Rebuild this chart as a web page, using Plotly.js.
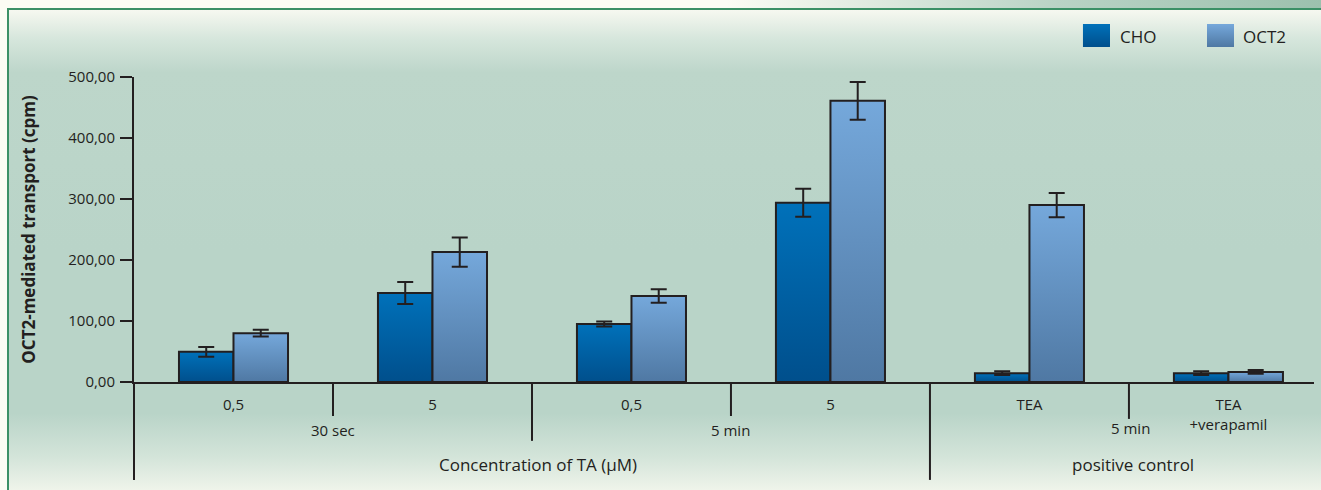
<!DOCTYPE html>
<html>
<head>
<meta charset="utf-8">
<script src="https://cdn.plot.ly/plotly-3.0.1.min.js"></script>
<style>
  html, body { margin: 0; padding: 0; background: #fbfcf4; }
  #wrap { position: relative; width: 1321px; height: 490px; overflow: hidden;
          background: linear-gradient(to right, #fbfcf4 0%, #fbfcf4 55%, #b9d3c5 80%, #9cc1ae 100%); }
  #panel { position: absolute; left: 7px; top: 8px; width: 1314px; height: 482px;
           border-left: 2px solid #3b9066; border-top: 2px solid #3b9066; box-sizing: border-box;
           background: linear-gradient(to bottom, #f6f8f0 0%, #d6e6dc 6%, #bdd6ca 13%, #b9d4c8 50%, #b9d4c8 84%, #d3e4d9 93%, #eff4ea 100%); }
  #chart { position: absolute; left: 0; top: 0; width: 1321px; height: 490px; }
</style>
</head>
<body>
<div id="wrap">
  <div id="panel"></div>
  <div id="chart"></div>
</div>
<script>
// ---- data ----
const categoryIds = ['30s-0.5', '30s-5', '5m-0.5', '5m-5', 'pc-TEA', 'pc-TEA-verapamil'];
const categoryLabels = ['0,5', '5', '0,5', '5', 'TEA', 'TEA<br>+verapamil'];
const choValues = [49.5, 146, 95, 294, 14.5, 14.5];
const choErrors = [8, 18, 4, 23, 3, 3];
const oct2Values = [80, 213, 141, 461, 290, 16.5];
const oct2Errors = [5.5, 24, 11, 31, 20, 3];
const yTickValues = [0, 100, 200, 300, 400, 500];
const seriesNames = ['CHO', 'OCT2'];
const timeLabels = ['30 sec', '5 min', '5 min'];
const groupLabels = ['Concentration of TA (µM)', 'positive control'];

const ink = '#231f20';
const font = 'Open Sans, Noto Sans, sans-serif';

const traces = [
  {
    type: 'bar', name: seriesNames[0], x: categoryIds, y: choValues,
    marker: { color: '#0060a3', line: { color: ink, width: 2 } },
    error_y: { type: 'data', array: choErrors, visible: true, color: ink, thickness: 2, width: 8 },
    hoverinfo: 'y', showlegend: false
  },
  {
    type: 'bar', name: seriesNames[1], x: categoryIds, y: oct2Values,
    marker: { color: '#6290c0', line: { color: ink, width: 2 } },
    error_y: { type: 'data', array: oct2Errors, visible: true, color: ink, thickness: 2, width: 8 },
    hoverinfo: 'y', showlegend: false
  }
];

const lineStyle = { color: ink, width: 2 };
const shapes = [
  // legend boxes (index 0,1)
  { type: 'rect', xref: 'paper', yref: 'paper', x0: 0.8042, x1: 0.8271, y0: 1.0984, y1: 1.1738, fillcolor: '#0060a4', line: { width: 0 } },
  { type: 'rect', xref: 'paper', yref: 'paper', x0: 0.9093, x1: 0.9322, y0: 1.0984, y1: 1.1738, fillcolor: '#6390c0', line: { width: 0 } },
  // y axis extension
  { type: 'line', xref: 'paper', yref: 'paper', x0: 0, x1: 0, y0: 0, y1: -0.321, line: lineStyle },
  // separators
  { type: 'line', xref: 'x', yref: 'paper', x0: 0.5, x1: 0.5, y0: 0, y1: -0.1115, line: lineStyle },
  { type: 'line', xref: 'x', yref: 'paper', x0: 1.5, x1: 1.5, y0: 0, y1: -0.193, line: lineStyle },
  { type: 'line', xref: 'x', yref: 'paper', x0: 2.5, x1: 2.5, y0: 0, y1: -0.1115, line: lineStyle },
  { type: 'line', xref: 'x', yref: 'paper', x0: 3.5, x1: 3.5, y0: 0, y1: -0.321, line: lineStyle },
  { type: 'line', xref: 'x', yref: 'paper', x0: 4.5, x1: 4.5, y0: 0, y1: -0.121, line: lineStyle }
];

const ann = (text, x, y, opts) => Object.assign({
  text, x, y, xref: 'x', yref: 'paper', showarrow: false,
  xanchor: 'center', yanchor: 'middle', font: { family: font, size: 15, color: ink }
}, opts || {});

const annotations = [
  ann(timeLabels[0], 0.5, -0.157),
  ann(timeLabels[1], 2.5, -0.157),
  ann(timeLabels[2], 4.5, -0.151, { xshift: 2 }),
  ann(groupLabels[0], 1.5, -0.272, { xshift: 6, font: { family: font, size: 17, color: ink } }),
  ann(groupLabels[1], 4.5, -0.272, { xshift: 4, font: { family: font, size: 17, color: ink } }),
  ann(seriesNames[0], 0.834, 1.134, { xref: 'paper', xanchor: 'left', font: { family: font, size: 17, color: ink } }),
  ann(seriesNames[1], 0.938, 1.134, { xref: 'paper', xanchor: 'left', font: { family: font, size: 17, color: ink } })
];

const layout = {
  width: 1321, height: 490,
  margin: { l: 134, r: 7, t: 77, b: 108, pad: 0 },
  paper_bgcolor: 'rgba(0,0,0,0)', plot_bgcolor: 'rgba(0,0,0,0)',
  separators: ',.',
  barmode: 'group', bargap: 0.452, bargroupgap: 0,
  font: { family: font, color: ink },
  xaxis: {
    type: 'category', categoryorder: 'array', categoryarray: categoryIds,
    tickvals: categoryIds, ticktext: categoryLabels,
    range: [-0.5, 5.43], showline: true, linecolor: ink, linewidth: 2,
    ticks: '', showgrid: false, zeroline: false, fixedrange: true,
    tickfont: { family: font, size: 15, color: ink }, ticklabelstandoff: 8
  },
  yaxis: {
    range: [0, 500], tickvals: yTickValues, tickformat: '.2f',
    ticks: 'outside', ticklen: 12, tickwidth: 2, tickcolor: ink,
    showline: true, linecolor: ink, linewidth: 2,
    showgrid: false, zeroline: false, fixedrange: true,
    tickfont: { family: font, size: 15, color: ink }, ticklabelstandoff: 2,
    title: { text: 'OCT2-mediated transport (cpm)', standoff: 28,
             font: { family: font, size: 17, color: ink, weight: 'bold' } }
  },
  shapes, annotations, showlegend: false
};

const gd = document.getElementById('chart');

function ensureGradient(svg, id, top, bottom) {
  if (svg.querySelector('#' + id)) return;
  let defs = svg.querySelector('defs');
  if (!defs) { defs = document.createElementNS('http://www.w3.org/2000/svg', 'defs'); svg.insertBefore(defs, svg.firstChild); }
  const g = document.createElementNS('http://www.w3.org/2000/svg', 'linearGradient');
  g.setAttribute('id', id); g.setAttribute('x1', '0'); g.setAttribute('y1', '0');
  g.setAttribute('x2', '0'); g.setAttribute('y2', '1');
  [[0, top], [1, bottom]].forEach(([o, c]) => {
    const s = document.createElementNS('http://www.w3.org/2000/svg', 'stop');
    s.setAttribute('offset', o); s.setAttribute('stop-color', c); g.appendChild(s);
  });
  defs.appendChild(g);
}

function applyGradients() {
  const svg = gd.querySelector('svg.main-svg');
  if (!svg) return;
  ensureGradient(svg, 'gradCHO', '#0071ba', '#004f8c');
  ensureGradient(svg, 'gradOCT2', '#75a8db', '#4f78a3');
  const ids = ['gradCHO', 'gradOCT2'];
  gd.querySelectorAll('.barlayer .trace').forEach((tr, i) => {
    tr.querySelectorAll('.point path').forEach(p => { p.style.fill = 'url(#' + ids[i] + ')'; });
  });
  gd.querySelectorAll('.shapelayer path').forEach(p => {
    const idx = p.getAttribute('data-index');
    if (idx === '0') p.style.fill = 'url(#gradCHO)';
    if (idx === '1') p.style.fill = 'url(#gradOCT2)';
  });
}

Plotly.newPlot(gd, traces, layout, { displayModeBar: false, staticPlot: true }).then(() => {
  applyGradients();
  gd.on('plotly_afterplot', applyGradients);
});
</script>
</body>
</html>
